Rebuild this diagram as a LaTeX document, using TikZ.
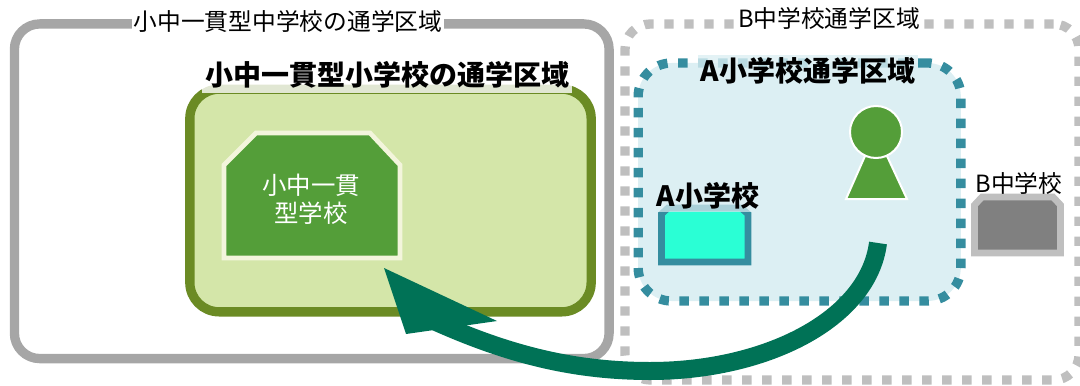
\documentclass[tikz,border=0pt]{standalone}
\usepackage{fontspec}
\setmainfont{Noto Sans CJK JP}
\usepackage{xcolor}
\usepackage{tikz}
\usetikzlibrary{arrows.meta, positioning}

\definecolor{grayline}{HTML}{A6A6A6}
\definecolor{graydot}{HTML}{BFBFBF}
\definecolor{oliveline}{HTML}{6B8B24}
\definecolor{olivefill}{HTML}{D4E6A9}
\definecolor{leaf}{HTML}{549E39}
\definecolor{cream}{HTML}{F3F5DC}
\definecolor{tealline}{HTML}{358D9F}
\definecolor{tealfill}{HTML}{DCEFF3}
\definecolor{aqua}{HTML}{2AFFD5}
\definecolor{arrowgreen}{HTML}{007256}

\begin{document}
\begin{tikzpicture}
  [
    x=0.75pt, y=-0.75pt,
    Region/.style={rectangle, rounded corners=#1, inner sep=0pt},
    Thin/.style={font=\fontsize{17.8}{21}\selectfont, inner sep=1pt},
    Bold/.style={font=\fontsize{21}{26}\selectfont\bfseries, inner sep=2pt}
  ]
  \useasboundingbox (0, 0) rectangle (1080, 385);
  % Regions
  \node[Region=19pt, draw=grayline, line width=7pt, minimum width=446pt, minimum height=251pt] (middle) at(311.75, 191.25) {};
  \node[Region=19pt, draw=graydot, line width=7pt, dash pattern=on 7pt off 8pt, minimum width=340.5pt, minimum height=267pt] (zoneb) at(852, 202) {};
  \node[Region=22pt, draw=oliveline, fill=olivefill, line width=7pt, minimum width=301pt, minimum height=167pt] (elem) at(390.5, 200.5) {};
  \node[Region=25pt, draw=tealline, fill=tealfill, line width=7pt, dash pattern=on 7pt off 8pt, minimum width=242pt, minimum height=178.5pt] (zonea) at(799.5, 182) {};

  % Schools
  \filldraw[draw=cream, fill=leaf, line width=3.5pt] (224, 258) -- (224, 165) -- (256, 133) -- (370, 133) -- (400, 165) -- (400, 258) -- cycle;
  \node[text=white, align=center, inner sep=0pt, font=\fontsize{18.3}{21}\selectfont] (unified) at(311, 199) {小中一貫\\型学校};
  \filldraw[draw=tealline, fill=aqua, line width=5pt] (661.5, 262) -- (661.5, 214) -- (668, 208) -- (741, 208) -- (748, 214) -- (748, 262) -- cycle;
  \filldraw[draw=graydot, fill=gray, line width=5pt] (974.5, 253) -- (974.5, 205) -- (982, 197) -- (1053, 197) -- (1060.5, 205) -- (1060.5, 253) -- cycle;

  % Pupil
  \coordinate (bodyl) at(865, 156);
  \coordinate (bodyr) at(887, 156);
  \coordinate (footr) at(907, 199);
  \coordinate (footl) at(846, 199);
  \filldraw[draw=white, fill=leaf, line width=1.5pt] (bodyl) -- (bodyr) -- (footr) -- (footl) -- cycle;
  \node[circle, draw=white, fill=leaf, line width=1.5pt, minimum size=39pt, inner sep=0pt] (head) at(876, 132) {};

  % Labels
  \node[Thin, fill=white] (midlabel) at(288, 21) {小中一貫型中学校の通学区域};
  \node[Thin, fill=white] (zoneblabel) at(829, 18) {B中学校通学区域};
  \node[Bold, fill=white, fill opacity=0.8, text opacity=1, minimum height=27pt] (elemlabel) at(387, 75) {小中一貫型小学校の通学区域};
  \node[Bold, fill=tealfill, fill opacity=0.8, text opacity=1] (zonealabel) at(808, 71) {A小学校通学区域};
  \node[Bold, fill=tealfill, fill opacity=0.7, text opacity=1] (schoolalabel) at(708, 196) {A小学校};
  \node[Thin, inner sep=0pt] (schoolblabel) at(1019, 183) {B中学校};

  % Arrow
  \coordinate (start) at(878, 243);
  \coordinate (low) at(650, 371);
  \coordinate (neck) at(436, 322);
  \coordinate (tip) at(384, 268);
  \coordinate (barbl) at(406, 334);
  \coordinate (barbr) at(497, 321);
  \draw[draw=arrowgreen, line width=13.5pt] (start) .. controls (868, 320) and (765, 371) .. (low) .. controls (575, 371) and (510, 355) .. (neck);
  \fill[arrowgreen] (tip) -- (barbr) -- (barbl) -- cycle;

\end{tikzpicture}
\end{document}
